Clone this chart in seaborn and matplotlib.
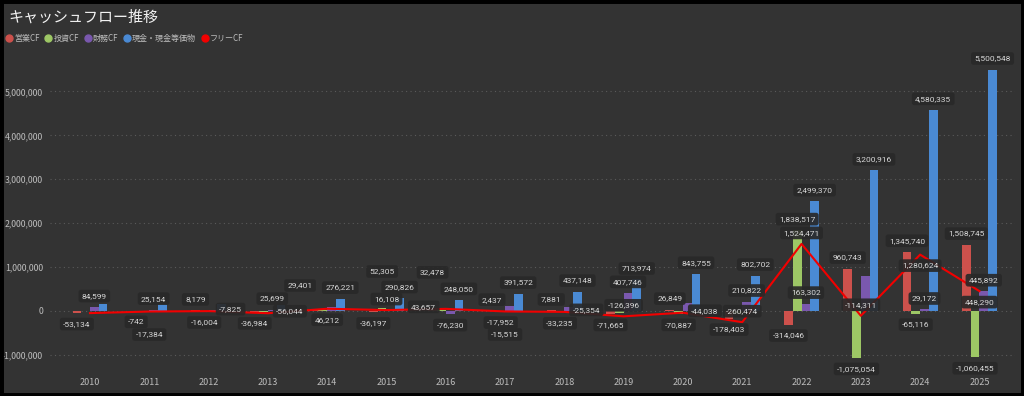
"""Cash flow trend chart (Power BI style, dark)."""

import matplotlib

matplotlib.use("Agg")
import matplotlib.pyplot as plt
from matplotlib.lines import Line2D
from matplotlib.patches import Rectangle
from matplotlib.ticker import FuncFormatter
import numpy as np
import pandas as pd
import seaborn as sns

years = [str(y) for y in range(2010, 2026)]

operating_cf = [-53134, -742, 8179, -36984, 29401, -36197, 32478, 2437,
                7881, -71665, 26849, -178403, -314046, 960743, 1345740, 1508745]
investing_cf = [0, -16642, -16004, -19060, 16811, 52305, 11179, -17952,
                -33235, -54731, -70887, -82071, 1838517, -1075054, -65116, -1060455]
financing_cf = [84599, 25154, 20000, 25699, 80000, 50000, -76230, 100000,
                90000, 407746, 170000, 210822, 163302, 800000, 29172, 445892]
cash = [150000, 160000, 160000, 140000, 276221, 290826, 248050, 391572,
        437148, 713974, 843755, 802702, 2499370, 3200916, 4580335, 5500548]
free_cf = [-53134, -17384, -7825, -56044, 46212, 16108, 43657, -15515,
           -25354, -126396, -44038, -260474, 1524471, -114311, 1280624, 448290]

series_names = ["営業CF", "投資CF", "財務CF", "現金・現金等価物"]
line_name = "フリーCF"

# data labels that the original chart hides (overlap)
hidden_labels = {
    "営業CF": [],
    "投資CF": ["2010", "2011", "2013", "2014", "2016", "2019", "2021"],
    "財務CF": ["2012", "2014", "2015", "2017", "2018", "2020", "2023"],
    "現金・現金等価物": ["2010", "2011", "2012", "2013"],
    "フリーCF": ["2010"],
}

colors = ["#CD514C", "#9DC765", "#7A58AE", "#4A8AD4"]
line_color = "#F20000"
bg = "#333333"
text_color = "#BDBDBD"

df = pd.DataFrame({
    "year": years * 4,
    "series": np.repeat(series_names, len(years)),
    "value": operating_cf + investing_cf + financing_cf + cash,
})

plt.rcParams["font.family"] = ["Noto Sans CJK JP", "DejaVu Sans"]

fig = plt.figure(figsize=(10.24, 3.96), dpi=100, facecolor=bg)
ax = fig.add_axes([0.0488, 0.0657, 0.9424, 0.803])
ax.set_facecolor(bg)

sns.barplot(data=df, x="year", y="value", hue="series", palette=colors,
            width=0.59, gap=0, saturation=1, legend=False, ax=ax)
x_pos = np.arange(len(years))
sns.lineplot(x=x_pos, y=free_cf, color=line_color, linewidth=1.5, ax=ax)

ax.set_xlim(-0.675, 15.6)
ax.set_ylim(-1350000, 5900000)
ax.set_yticks(np.arange(-1000000, 5000001, 1000000))
ax.yaxis.set_major_formatter(FuncFormatter(lambda v, _: f"{v:,.0f}"))
ax.grid(axis="y", color="#5A5A5A", linestyle=(0, (1, 3)), linewidth=0.8)
ax.set_axisbelow(True)
for s in ax.spines.values():
    s.set_visible(False)
ax.tick_params(length=0, colors=text_color)
ax.tick_params(axis="y", labelsize=6.3, pad=5)
ax.tick_params(axis="x", labelsize=6.5, pad=6)
ax.set_xlabel("")
ax.set_ylabel("")

# ---- data labels with simple greedy overlap avoidance ----
fig.canvas.draw()
renderer = fig.canvas.get_renderer()
label_size = 6.0
box = dict(boxstyle="round,pad=0.4,rounding_size=0.3", fc="#292929",
           ec="none", alpha=0.92)
placed = []
x_min_px, x_max_px = 52, 1020


def overlap_area(r):
    total = 0.0
    for p in placed:
        ox = min(r[2], p[2]) - max(r[0], p[0])
        oy = min(r[3], p[3]) - max(r[1], p[1])
        if ox > 0.5 and oy > 0.5:
            total += ox * oy
    return total


def put_label(x, y, text, candidates):
    ann = ax.annotate(text, (x, y), xytext=(0, 0), textcoords="offset points",
                      ha="center", va="center", fontsize=label_size,
                      color="#D8D8D8", family="Roboto", bbox=box, zorder=6)
    bb = ann.get_window_extent(renderer)
    w, h = bb.width + 6, bb.height + 6
    px, py = ax.transData.transform((x, y))
    best, best_cost = candidates[0], None
    for dx, dy in candidates:
        cx, cy = px + dx, py + dy
        r = (cx - w / 2, cy - h / 2, cx + w / 2, cy + h / 2)
        if r[0] < x_min_px or r[2] > x_max_px:
            continue
        cost = overlap_area(r)
        if best_cost is None or cost < best_cost:
            best, best_cost = (dx, dy), cost
        if cost == 0:
            break
    cx, cy = px + best[0], py + best[1]
    placed.append((cx - w / 2, cy - h / 2, cx + w / 2, cy + h / 2))
    ann.xyann = (best[0] * 0.72, best[1] * 0.72)


def bar_candidates(up):
    s = 1 if up else -1
    return [(0, 11 * s), (14, 11 * s), (-14, 11 * s), (0, 24 * s),
            (22, 11 * s), (-22, 11 * s), (14, 24 * s), (-14, 24 * s),
            (0, 37 * s)]


line_cands = [(0, 11), (0, -11), (22, 2), (-22, 2), (0, 23), (0, -23),
              (26, -10), (-26, -10), (26, 12), (-26, 12), (0, 35), (0, -35)]

# place bar labels series by series, biggest series first
order = [3, 2, 0, 1]
for i in order:
    name, cont = series_names[i], ax.containers[i]
    for year, bar in zip(years, cont):
        if year in hidden_labels[name]:
            continue
        h = bar.get_height()
        x = bar.get_x() + bar.get_width() / 2
        put_label(x, h, f"{h:,.0f}", bar_candidates(h >= 0))

for year, x, v in zip(years, x_pos, free_cf):
    if year in hidden_labels[line_name]:
        continue
    put_label(x, v, f"{v:,.0f}", line_cands)

fig.text(0.008, 0.955, "キャッシュフロー推移", color="#F2F2F2", fontsize=10.8,
         ha="left", va="center")

handles = [Line2D([], [], marker="o", linestyle="", color=c, markersize=5)
           for c in colors + [line_color]]
fig.legend(handles, series_names + [line_name], loc="center left",
           bbox_to_anchor=(0.002, 0.903), ncol=5, frameon=False,
           fontsize=5.8, labelcolor=text_color, handletextpad=0.1,
           columnspacing=0.6, handlelength=1.0, borderaxespad=0)

fig.patches.append(Rectangle((0, 0), 1, 1, transform=fig.transFigure,
                             fill=False, ec="black", lw=5))

fig.savefig("out.png", dpi=100, facecolor=bg)
plt.close(fig)
